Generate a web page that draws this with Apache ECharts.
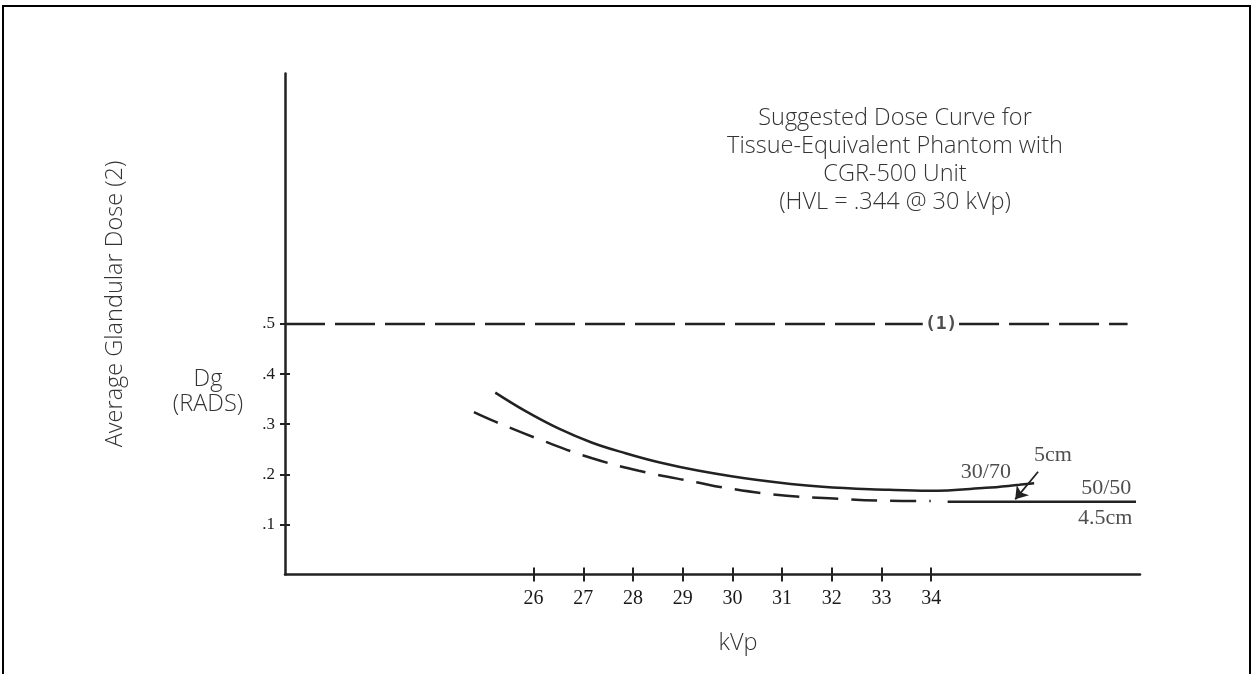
<!DOCTYPE html>
<html>
<head>
<meta charset="utf-8">
<title>Suggested Dose Curve</title>
<script src="https://cdn.jsdelivr.net/npm/echarts@6/dist/echarts.min.js"></script>
<style>
  html, body { margin: 0; padding: 0; background: #fff; }
  #chart { width: 1253px; height: 674px; }
</style>
</head>
<body>
<div id="chart"></div>
<script>
// kVp ticks and dose ticks shown on the axes
const kvpTicks = [26, 27, 28, 29, 30, 31, 32, 33, 34]
const doseTicks = [0.1, 0.2, 0.3, 0.4, 0.5]

// 30/70 breast, 5 cm (solid curve)
const curve3070 = [
  [25.23, 0.363], [25.84, 0.326], [26.51, 0.291], [27.18, 0.263],
  [27.85, 0.242], [28.52, 0.224], [29.33, 0.207], [30.47, 0.189],
  [31.81, 0.175], [33.15, 0.169], [33.96, 0.167], [35.10, 0.173],
  [35.77, 0.179], [36.07, 0.182],
]

// 50/50 breast, 4.5 cm (dashed part, then solid tail)
const curve5050Dashed = [
  [24.80, 0.324], [25.23, 0.305], [26.24, 0.265], [27.18, 0.232],
  [28.12, 0.207], [29.33, 0.183], [29.79, 0.174], [30.80, 0.160],
  [31.95, 0.152], [33.15, 0.147], [33.99, 0.1465],
]
const curve5050Solid = [[34.33, 0.145], [38.12, 0.145]]

// limit line (1) at .5, broken where the label sits
const limitLeft = [[21, 0.5], [33.83, 0.5]]
const limitRight = [[34.56, 0.5], [37.95, 0.5]]

// annotation texts and where they sit (data units)
const noteTexts = ['30/70', '5cm', '50/50', '4.5cm']
const noteX = [35.1, 36.45, 37.52, 37.5]
const noteY = [0.205, 0.239, 0.173, 0.113]
const limitLabel = { text: '(1)', x: 34.2, y: 0.5 }

// arrow from "5cm" down to the curves
const arrowFrom = [36.15, 0.205]
const arrowTo = [35.69, 0.15]

const ink = '#222'
const serif = 'Liberation Serif'
const sans = 'Open Sans'

const chart = echarts.init(document.getElementById('chart'))

const xBase = {
  type: 'value',
  min: 21,
  max: 38.2,
  interval: 1,
  splitLine: { show: false },
}
const yBase = {
  type: 'value',
  min: 0,
  max: 1,
  interval: 0.1,
  splitLine: { show: false },
}

const lineSeries = (data, dash, extra) =>
  Object.assign(
    {
      type: 'line',
      data: data,
      smooth: 0.4,
      symbol: 'none',
      silent: true,
      lineStyle: { color: ink, width: 2.5, type: dash },
    },
    extra || {}
  )

const noteSeries = (data, font, size, weight) => ({
  type: 'scatter',
  silent: true,
  symbolSize: 1,
  itemStyle: { color: 'rgba(0,0,0,0)' },
  data: data,
  label: {
    show: true,
    position: 'inside',
    formatter: (p) => p.name,
    color: '#222',
    fontFamily: font,
    fontSize: size,
    fontWeight: weight,
  },
  labelLayout: { hideOverlap: false },
})

chart.setOption({
  animation: false,
  backgroundColor: '#ffffff',
  grid: { left: 285, right: 113, top: 73.5, bottom: 99.5 },
  xAxis: [
    Object.assign({}, xBase, {
      position: 'bottom',
      axisLine: { show: true, lineStyle: { color: ink, width: 2.5 } },
      axisTick: { show: true, customValues: kvpTicks, length: 7, lineStyle: { color: ink, width: 2 } },
      axisLabel: {
        customValues: kvpTicks,
        margin: 14,
        color: '#1a1a1a',
        fontFamily: serif,
        fontSize: 20,
      },
    }),
    Object.assign({}, xBase, {
      position: 'bottom',
      axisLine: { show: false },
      axisTick: { show: true, inside: true, customValues: kvpTicks, length: 7, lineStyle: { color: ink, width: 2 } },
      axisLabel: { show: false },
    }),
  ],
  yAxis: [
    Object.assign({}, yBase, {
      position: 'left',
      axisLine: { show: true, lineStyle: { color: ink, width: 2.5 } },
      axisTick: { show: true, customValues: doseTicks, length: 5, lineStyle: { color: ink, width: 2 } },
      axisLabel: {
        customValues: doseTicks,
        margin: 10,
        color: '#1a1a1a',
        fontFamily: serif,
        fontSize: 17,
        formatter: (v) => '.' + Math.round(v * 10),
      },
    }),
    Object.assign({}, yBase, {
      position: 'left',
      axisLine: { show: false },
      axisTick: { show: true, inside: true, customValues: doseTicks, length: 5, lineStyle: { color: ink, width: 2 } },
      axisLabel: { show: false },
    }),
  ],
  series: [
    lineSeries(limitLeft, [40, 10], { smooth: false }),
    lineSeries(limitRight, [40, 10], { smooth: false }),
    lineSeries(curve3070, 'solid', {
      markLine: {
        silent: true,
        symbol: ['none', 'arrow'],
        symbolSize: 12,
        label: { show: false },
        lineStyle: { color: ink, width: 1.8, type: 'solid' },
        data: [[{ coord: arrowFrom }, { coord: arrowTo }]],
      },
    }),
    lineSeries(curve5050Dashed, [26, 13]),
    lineSeries(curve5050Solid, 'solid', { smooth: false }),
    noteSeries(
      noteTexts.map((t, i) => ({ name: t, value: [noteX[i], noteY[i]] })),
      serif, 22, 'normal'
    ),
    noteSeries(
      [{ name: limitLabel.text, value: [limitLabel.x, limitLabel.y] }],
      'DejaVu Sans Mono', 18, 'bold'
    ),
  ],
  graphic: [
    {
      type: 'polyline',
      silent: true,
      shape: { points: [[3, 674], [3, 6], [1250, 6], [1250, 674]] },
      style: { stroke: '#000', lineWidth: 2, fill: null },
    },
    {
      type: 'text',
      x: 895,
      y: 104,
      style: {
        text: 'Suggested Dose Curve for\nTissue-Equivalent Phantom with\nCGR-500 Unit\n(HVL = .344 @ 30 kVp)',
        align: 'center',
        verticalAlign: 'top',
        fontFamily: sans,
        fontWeight: 300,
        fontSize: 23.5,
        lineHeight: 28,
        fill: '#333',
      },
    },
    {
      type: 'text',
      x: 115,
      y: 304,
      rotation: Math.PI / 2,
      style: {
        text: 'Average Glandular Dose (2)',
        align: 'center',
        verticalAlign: 'middle',
        fontFamily: sans,
        fontWeight: 300,
        fontSize: 23.5,
        fill: '#333',
      },
    },
    {
      type: 'text',
      x: 208,
      y: 392,
      style: {
        text: 'Dg\n(RADS)',
        align: 'center',
        verticalAlign: 'middle',
        fontFamily: sans,
        fontWeight: 300,
        fontSize: 23.5,
        lineHeight: 25,
        fill: '#333',
      },
    },
    {
      type: 'text',
      x: 738,
      y: 643,
      style: {
        text: 'kVp',
        align: 'center',
        verticalAlign: 'middle',
        fontFamily: sans,
        fontWeight: 300,
        fontSize: 23.5,
        fill: '#333',
      },
    },
  ],
})
</script>
</body>
</html>
